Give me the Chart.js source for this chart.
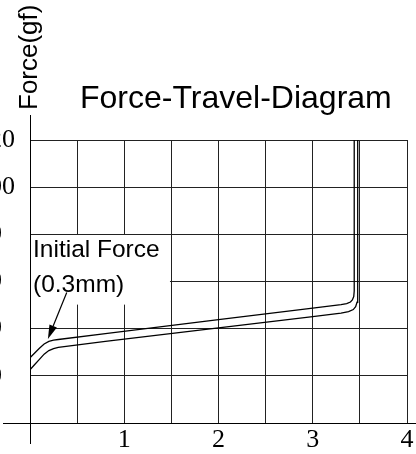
<!DOCTYPE html>
<html>
<head>
<meta charset="utf-8">
<script src="https://cdn.jsdelivr.net/npm/chart.js@4/dist/chart.umd.min.js"></script>
<style>
  html, body { margin: 0; padding: 0; background: #fff; overflow: hidden; }
  #wrap { position: relative; width: 416px; height: 454px; overflow: hidden; }
  #forceChart { position: absolute; left: -30px; top: 0; }
</style>
</head>
<body>
<div id="wrap"><canvas id="forceChart" width="446" height="454"></canvas></div>
<script>
// travel in mm, force in gf
const travelUpper = [0, 0.05, 0.1, 0.15, 0.2, 0.25, 0.3, 0.8, 2.0, 3.0, 3.3, 3.36, 3.4, 3.42, 3.435, 3.44, 3.44];
const forceUpper  = [27.7, 29.7, 31.7, 33.5, 34.6, 35.1, 35.4, 37.9, 43.8, 48.7, 50.2, 50.6, 51.3, 52.2, 53.6, 56, 120];

const travelLower = [0, 0.05, 0.1, 0.15, 0.2, 0.25, 0.3, 0.8, 2.0, 3.0, 3.3, 3.38, 3.43, 3.455, 3.47, 3.477, 3.477];
const forceLower  = [22.6, 24.8, 27.0, 29.2, 30.7, 31.5, 32.1, 34.6, 40.3, 45.1, 46.6, 47.2, 48.1, 49.3, 51.2, 54, 120];

const xLabels = [1, 2, 3, 4];
const yLabels = [20, 40, 60, 80, 100, 120];

const calloutText = ["Initial Force", "(0.3mm)"];
const arrowFrom = [0.39, 55.3];
const arrowTo = [0.19, 35.6];

const SHIFT = 30; // canvas sits 30px left of the window, labels get cut like the original
const sans = '"Liberation Sans", Arial, sans-serif';
const serif = '"Liberation Serif", "Times New Roman", serif';

const toPoints = (xs, ys) => xs.map((t, i) => ({ x: t, y: ys[i] }));

const decorations = {
    id: "decorations",
    beforeDatasetsDraw(chart) {
        const { ctx, scales: { x, y } } = chart;
        const left = Math.round(x.getPixelForValue(0)) + 1;
        const top = Math.round(y.getPixelForValue(80)) + 1;
        const right = x.getPixelForValue(1.485);
        const bottom = y.getPixelForValue(50.2);

        ctx.save();
        ctx.fillStyle = "#fff";
        ctx.fillRect(left, top, right - left, bottom - top);

        ctx.fillStyle = "#000";
        ctx.font = "24.5px " + sans;
        ctx.textAlign = "left";
        ctx.textBaseline = "alphabetic";
        ctx.fillText(calloutText[0], left + 2, top + 22);
        ctx.fillText(calloutText[1], left + 2, top + 57);
        ctx.restore();
    },
    afterDraw(chart) {
        const { ctx, scales: { x, y } } = chart;
        const x0 = Math.round(x.getPixelForValue(0)) + 0.5;
        const y0 = Math.round(y.getPixelForValue(0)) + 0.5;

        ctx.save();
        // axis lines running past the grid
        ctx.strokeStyle = "#000";
        ctx.lineWidth = 1;
        ctx.beginPath();
        ctx.moveTo(x0, 115);
        ctx.lineTo(x0, 444);
        ctx.moveTo(3 + SHIFT, y0);
        ctx.lineTo(chart.width, y0);
        ctx.stroke();

        // arrow to the initial force point
        const fx = x.getPixelForValue(arrowFrom[0]), fy = y.getPixelForValue(arrowFrom[1]);
        const tx = x.getPixelForValue(arrowTo[0]), ty = y.getPixelForValue(arrowTo[1]);
        const ang = Math.atan2(ty - fy, tx - fx);
        const headLen = 14, headW = 4;
        const bx = tx - headLen * Math.cos(ang), by = ty - headLen * Math.sin(ang);
        ctx.lineWidth = 1.2;
        ctx.beginPath();
        ctx.moveTo(fx, fy);
        ctx.lineTo(bx, by);
        ctx.stroke();
        ctx.fillStyle = "#000";
        ctx.beginPath();
        ctx.moveTo(tx, ty);
        ctx.lineTo(bx + headW * Math.sin(ang), by - headW * Math.cos(ang));
        ctx.lineTo(bx - headW * Math.sin(ang), by + headW * Math.cos(ang));
        ctx.closePath();
        ctx.fill();

        // titles
        ctx.font = "32px " + sans;
        ctx.textAlign = "left";
        ctx.textBaseline = "alphabetic";
        ctx.fillText("Force-Travel-Diagram", 80 + SHIFT, 108);

        ctx.translate(37 + SHIFT, 110);
        ctx.rotate(-Math.PI / 2);
        ctx.font = "26px " + sans;
        ctx.fillText("Force(gf)", 0, 0);
        ctx.restore();
    }
};

const ctx = document.getElementById("forceChart").getContext("2d");

new Chart(ctx, {
    type: "line",
    data: {
        datasets: [
            {
                label: "upper",
                data: toPoints(travelUpper, forceUpper),
                borderColor: "#000",
                borderWidth: 1.3,
                pointRadius: 0,
                tension: 0
            },
            {
                label: "lower",
                data: toPoints(travelLower, forceLower),
                borderColor: "#000",
                borderWidth: 1.3,
                pointRadius: 0,
                tension: 0
            }
        ]
    },
    options: {
        responsive: false,
        animation: false,
        layout: { padding: { left: 6, right: 9, top: 140, bottom: 0 } },
        plugins: {
            legend: { display: false },
            title: { display: false },
            tooltip: { enabled: false }
        },
        scales: {
            x: {
                type: "linear",
                min: 0,
                max: 4,
                grid: { color: "#222", drawTicks: false },
                border: { display: false },
                ticks: {
                    stepSize: 0.5,
                    autoSkip: false,
                    maxRotation: 0,
                    padding: 2,
                    color: "#000",
                    font: { family: serif, size: 26 },
                    callback: v => xLabels.includes(v) ? String(v) : ""
                },
                afterFit: s => { s.height = 31; }
            },
            y: {
                min: 0,
                max: 120,
                grid: { color: "#222", drawTicks: false },
                border: { display: false },
                ticks: {
                    stepSize: 20,
                    crossAlign: "far",
                    padding: 15,
                    color: "#000",
                    font: { family: serif, size: 26 },
                    callback: v => yLabels.includes(v) ? String(v) : ""
                },
                afterFit: s => { s.width = 54; }
            }
        }
    },
    plugins: [decorations]
});
</script>
</body>
</html>
